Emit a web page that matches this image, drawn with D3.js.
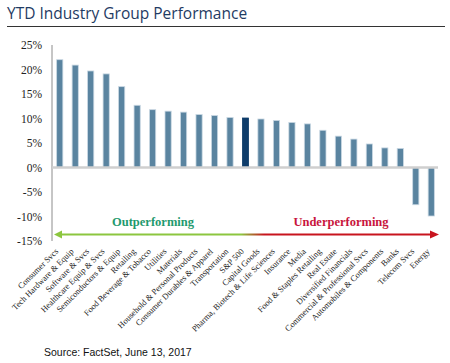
<!DOCTYPE html>
<html>
<head>
<meta charset="utf-8">
<script src="https://cdn.jsdelivr.net/npm/d3@7"></script>
<style>
  body { margin: 0; background: #fff; }
</style>
</head>
<body>
<div id="chart"></div>
<script>
// data
let categories = ["Consumer Svcs", "Tech Hardware & Equip", "Software & Svcs", "Healthcare Equip & Svcs",
    "Semiconductors & Equip", "Retailing", "Food Beverage & Tobacco", "Utilities", "Materials",
    "Household & Personal Products", "Consumer Durables & Apparel", "Transportation", "S&P 500",
    "Capital Goods", "Pharma, Biotech & Life Sciences", "Insurance", "Media", "Food & Staples Retailing",
    "Real Estate", "Diversified Financials", "Commercial & Professional Svcs", "Automobiles & Components",
    "Banks", "Telecom Svcs", "Energy"];
let ytdValues = [22.0, 20.9, 19.7, 19.1, 16.5, 12.7, 11.8, 11.5, 11.3, 10.8, 10.6, 10.2, 10.1,
    9.9, 9.6, 9.2, 8.9, 7.6, 6.4, 5.8, 4.8, 4.0, 3.9, -7.6, -9.9];
let yTicks = [25, 20, 15, 10, 5, 0, -5, -10, -15];
let highlight = "S&P 500";

let W = 450, H = 363;
let margin = {top: 45, right: 12, bottom: 122, left: 52};

let svg = d3.select("#chart").append("svg")
    .attr("width", W)
    .attr("height", H);

// title
svg.append("text")
    .attr("x", 7)
    .attr("y", 19)
    .text("YTD Industry Group Performance")
    .attr("font-family", "'Open Sans', sans-serif")
    .attr("font-size", "15.5px")
    .attr("fill", "#1f3b63");

svg.append("line")
    .attr("x1", 7).attr("x2", 445)
    .attr("y1", 26.5).attr("y2", 26.5)
    .attr("stroke", "#333")
    .attr("stroke-width", 1);

let g = svg.append("g")
    .attr("transform", "translate(" + margin.left + "," + margin.top + ")");

// scales
let x = d3.scaleBand()
    .domain(categories)
    .range([0, 387])
    .paddingInner(0.6)
    .paddingOuter(0.3);

let y = d3.scaleLinear()
    .domain([-15, 25])
    .range([196, 0]);

// y axis labels
g.selectAll(".ytick")
    .data(yTicks)
    .enter().append("text")
    .attr("class", "ytick")
    .attr("x", -10)
    .attr("y", d => y(d))
    .attr("dy", "0.35em")
    .attr("text-anchor", "end")
    .text(d => d + "%")
    .attr("font-family", "'Liberation Serif', serif")
    .attr("font-size", "11.5px")
    .attr("fill", "#222");

// y axis line
g.append("line")
    .attr("x1", 0).attr("x2", 0)
    .attr("y1", y(25)).attr("y2", y(-15))
    .attr("stroke", "#8c8c8c")
    .attr("stroke-width", 1);

// bars
g.selectAll(".bar")
    .data(categories)
    .enter().append("rect")
    .attr("class", "bar")
    .attr("x", d => x(d))
    .attr("width", x.bandwidth())
    .attr("y", (d, i) => y(Math.max(0, ytdValues[i])))
    .attr("height", (d, i) => Math.abs(y(ytdValues[i]) - y(0)))
    .attr("fill", d => d === highlight ? "#0e3c6a" : "#5a84a0")
    .attr("stroke", d => d === highlight ? "#0e3c6a" : "#c9d8e3")
    .attr("stroke-width", 0.8);

// zero line
g.append("line")
    .attr("x1", 0).attr("x2", 386)
    .attr("y1", y(0)).attr("y2", y(0))
    .attr("stroke", "#cfcfcf")
    .attr("stroke-width", 2.5);

// category labels
g.selectAll(".xlabel")
    .data(categories)
    .enter().append("text")
    .attr("class", "xlabel")
    .attr("transform", d => "translate(" + (x(d) + x.bandwidth() / 2 - 1) + "," + 207 + ") rotate(-45)")
    .attr("text-anchor", "end")
    .text(d => d)
    .attr("font-family", "'Liberation Serif', serif")
    .attr("font-size", "8.5px")
    .attr("fill", "#222");

// arrow gradient
let defs = svg.append("defs");
let grad = defs.append("linearGradient")
    .attr("id", "arrowGrad")
    .attr("gradientUnits", "userSpaceOnUse")
    .attr("x1", 0).attr("x2", 386).attr("y1", 0).attr("y2", 0);
grad.append("stop").attr("offset", "0.49").attr("stop-color", "#8cc63f");
grad.append("stop").attr("offset", "0.55").attr("stop-color", "#c8141e");

let arrowY = 189.5;
g.append("line")
    .attr("x1", 6).attr("x2", 380)
    .attr("y1", arrowY).attr("y2", arrowY)
    .attr("stroke", "url(#arrowGrad)")
    .attr("stroke-width", 2);

// arrow heads
g.append("path")
    .attr("d", "M2," + arrowY + " L10," + (arrowY - 4) + " L10," + (arrowY + 4) + "Z")
    .attr("fill", "#8cc63f");
g.append("path")
    .attr("d", "M387," + arrowY + " L378," + (arrowY - 4) + " L378," + (arrowY + 4) + "Z")
    .attr("fill", "#c8141e");

g.append("text")
    .attr("x", 101)
    .attr("y", 181)
    .attr("text-anchor", "middle")
    .text("Outperforming")
    .attr("font-family", "'Liberation Serif', serif")
    .attr("font-size", "12.5px")
    .attr("font-weight", "bold")
    .attr("fill", "#1f9a6e");

g.append("text")
    .attr("x", 289)
    .attr("y", 181)
    .attr("text-anchor", "middle")
    .text("Underperforming")
    .attr("font-family", "'Liberation Serif', serif")
    .attr("font-size", "12.5px")
    .attr("font-weight", "bold")
    .attr("fill", "#c8143c");

// source
svg.append("text")
    .attr("x", 44)
    .attr("y", 356)
    .text("Source: FactSet, June 13, 2017")
    .attr("font-family", "'Liberation Sans', Arial, sans-serif")
    .attr("font-size", "10.5px")
    .attr("fill", "#111");
</script>
</body>
</html>
